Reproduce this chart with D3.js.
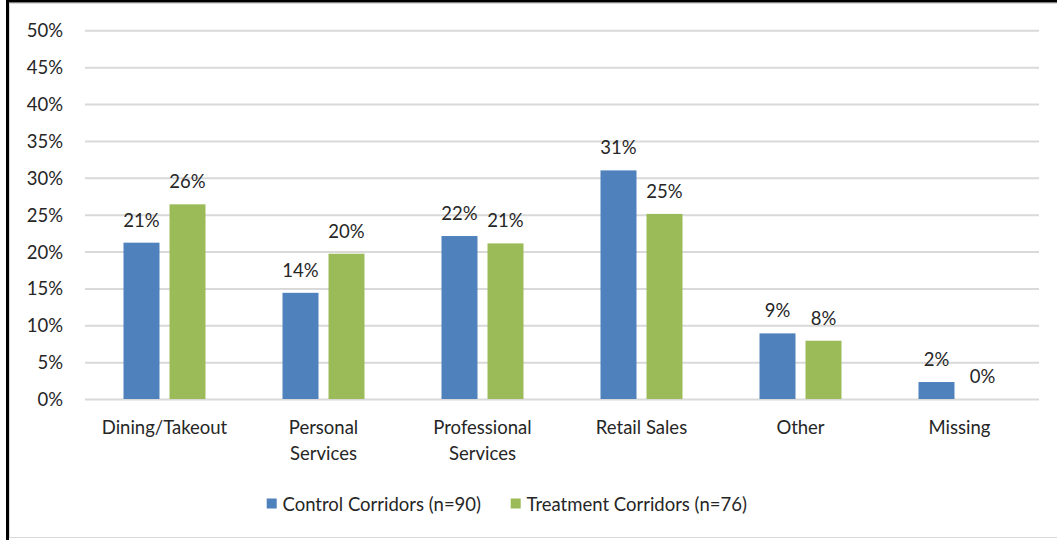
<!DOCTYPE html>
<html><head><meta charset="utf-8">
<script src="https://cdn.jsdelivr.net/npm/d3@7"></script>
<style>body{margin:0;background:#fff}svg{display:block}text{font-family:Lato,"Noto Sans",sans-serif;fill:#262626}</style>
</head><body><svg id="c" width="1057" height="540"></svg>
<script>
const categories = [["Dining/Takeout"],["Personal","Services"],["Professional","Services"],["Retail Sales"],["Other"],["Missing"]];
const seriesNames = ["Control Corridors (n=90)","Treatment Corridors (n=76)"];
const control = [21.2, 14.4, 22.1, 31.0, 8.9, 2.3];
const treatment = [26.4, 19.7, 21.1, 25.1, 7.9, 0];
const controlLabels = ["21%","14%","22%","31%","9%","2%"];
const treatmentLabels = ["26%","20%","21%","25%","8%","0%"];
const yTicks = [0,5,10,15,20,25,30,35,40,45,50];
const colors = ["#4f81bd","#9bbb59"];

(function(){
const svg = d3.select("#c");
const fs = 18.5;
// frame
svg.append("rect").attr("x",9.5).attr("y",3.5).attr("width",1060).attr("height",534).attr("fill","none").attr("stroke","#d9d9d9").attr("stroke-width",1);
svg.append("rect").attr("x",6).attr("y",0).attr("width",3).attr("height",540).attr("fill","#000");
svg.append("rect").attr("x",6).attr("y",0).attr("width",1051).attr("height",2.5).attr("fill","#000");

const pL=85, pR=1039, pT=30.3, pB=399;
const y = d3.scaleLinear().domain([0,50]).range([pB,pT]);
const x0 = d3.scaleBand().domain(d3.range(categories.length)).range([pL,pR]).paddingInner(0).paddingOuter(0);
const bw = x0.bandwidth();
const barW = 36, gap = 10;
const x1 = d3.scaleOrdinal().domain([0,1]).range([bw/2 - gap/2 - barW, bw/2 + gap/2]);

// gridlines
const yAxis = d3.axisLeft(y).tickValues(yTicks).tickSize(-(pR-pL)).tickFormat(d=>d+"%").tickPadding(22);
const g = svg.append("g").attr("transform",`translate(${pL},0)`).call(yAxis);
g.select(".domain").remove();
g.selectAll(".tick line").attr("stroke","#d9d9d9").attr("stroke-width",2);
g.selectAll(".tick text").attr("font-size",fs).attr("fill","#262626").attr("font-family","Lato").attr("dy","0.35em");

const series = [control, treatment];
const labels = [controlLabels, treatmentLabels];
series.forEach((vals,si)=>{
  svg.append("g").selectAll("rect").data(vals).join("rect")
    .attr("x",(d,i)=>x0(i)+x1(si)).attr("width",barW)
    .attr("y",d=>y(d)).attr("height",d=>y(0)-y(d)).attr("fill",colors[si]);
  svg.append("g").selectAll("text").data(vals).join("text")
    .attr("x",(d,i)=>x0(i)+x1(si)+barW/2).attr("y",d=>y(d)-16)
    .attr("text-anchor","middle").attr("font-size",fs).text((d,i)=>labels[si][i]);
});

// category labels
categories.forEach((lines,i)=>{
  const t = svg.append("text").attr("x",x0(i)+bw/2).attr("y",434).attr("text-anchor","middle").attr("font-size",fs);
  lines.forEach((l,j)=>t.append("tspan").attr("x",x0(i)+bw/2).attr("dy",j?26:0).text(l));
});

// legend
const leg = [[266.7,282.5],[510.7,526.5]];
seriesNames.forEach((n,i)=>{
  svg.append("rect").attr("x",leg[i][0]).attr("y",498.5).attr("width",10).attr("height",10).attr("fill",colors[i]);
  svg.append("text").attr("x",leg[i][1]).attr("y",510.5).attr("font-size",fs).text(n);
});
})();
</script></body></html>
